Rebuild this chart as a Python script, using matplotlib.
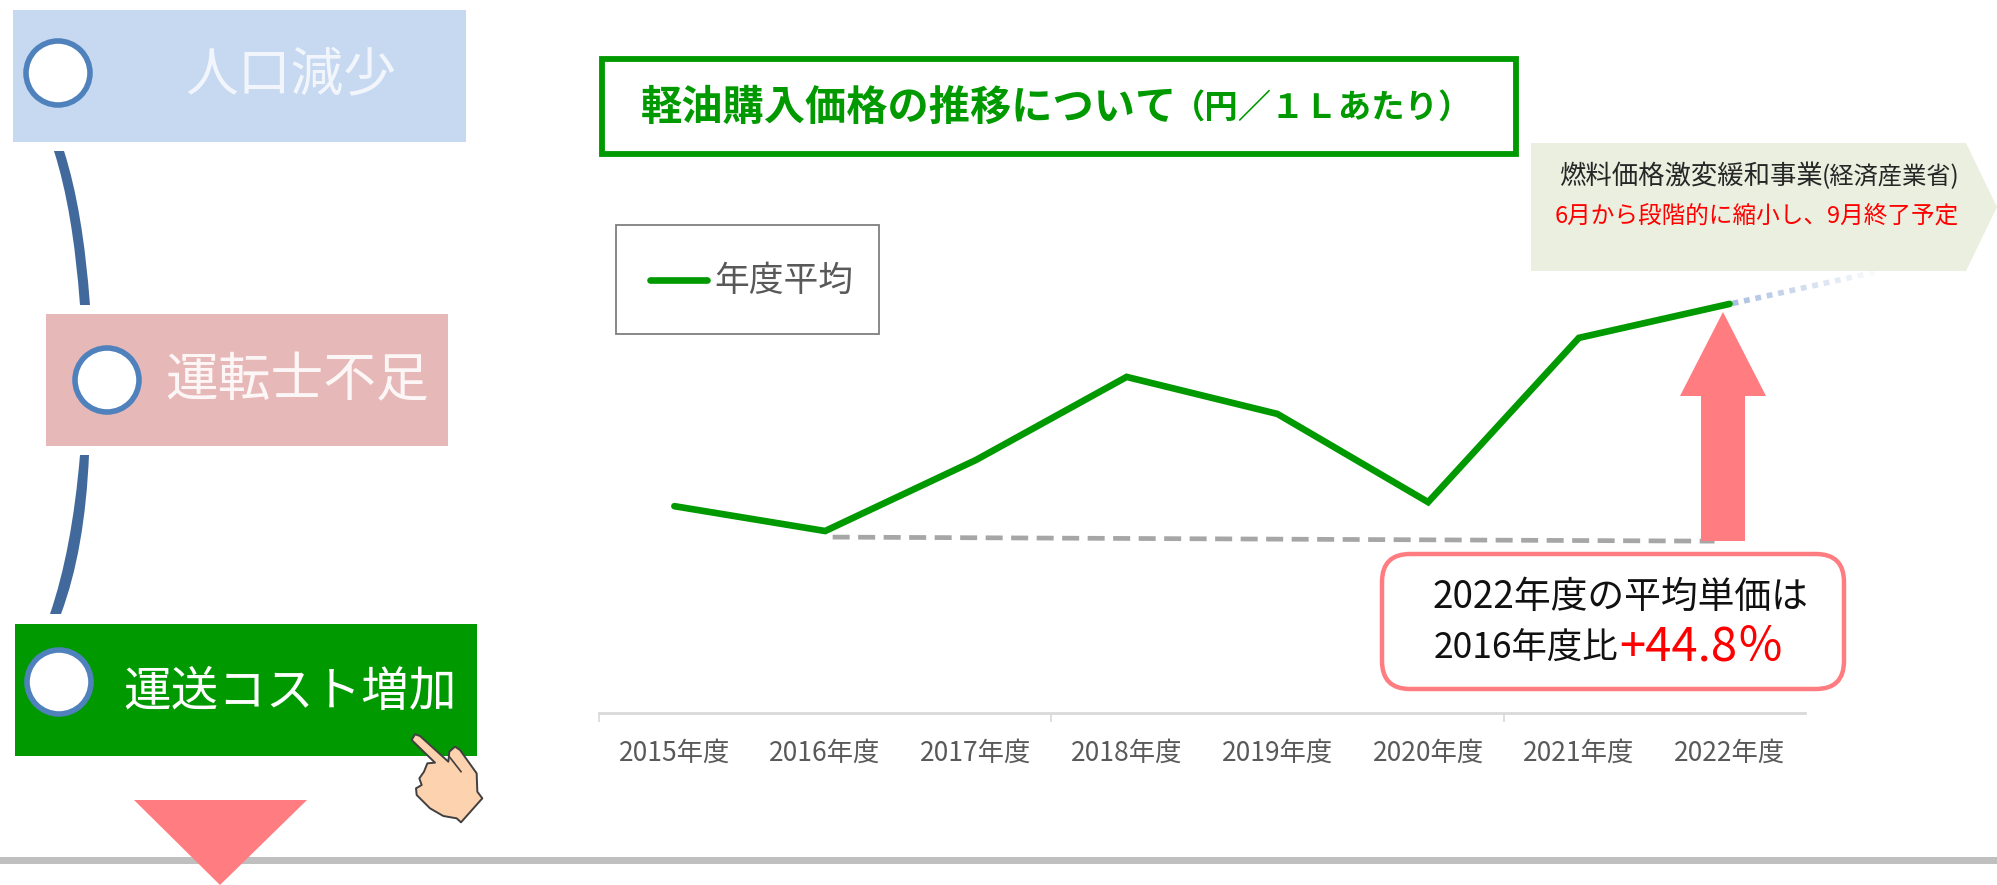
import numpy as np
import matplotlib.pyplot as plt
from matplotlib.patches import Rectangle, Ellipse, Polygon, PathPatch, FancyBboxPatch
from matplotlib.path import Path

plt.rcParams['font.family'] = ['Noto Sans CJK JP', 'DejaVu Sans']

years = ['2015年度', '2016年度', '2017年度', '2018年度', '2019年度', '2020年度', '2021年度', '2022年度']
price = [104.9, 100.0, 114.0, 130.4, 123.1, 105.7, 138.1, 144.8]
projection_end = 151.3

GREEN = '#009900'
PINK = '#ff7c80'
W, H = 1997, 885

fig = plt.figure(figsize=(W / 100, H / 100), dpi=100)


def px_axes(left, top, right, bottom):
    return [left / W, 1 - bottom / H, (right - left) / W, (bottom - top) / H]


# chart
ax = fig.add_axes(px_axes(599, 200, 1805, 713))
ax.patch.set_alpha(0)
x = np.arange(len(years))
ax.set_xlim(-0.5, 7.5)
ax.set_ylim(64.1, 165.3)

ax.plot([1.05, 6.9], [price[1] - 1.2, price[1] - 2.0], color='#a6a6a6', lw=3.4,
        dashes=(3.6, 1.8), zorder=1)

# dotted line after 2022, fading out
n = 13
xs = np.linspace(x[-1] + 0.02, 8.0, n + 1)
ys = np.linspace(price[-1] + 0.1, projection_end, n + 1)
for i in range(n):
    x0 = xs[i] + 0.5 * (xs[i + 1] - xs[i])
    y0 = ys[i] + 0.5 * (ys[i + 1] - ys[i])
    ax.plot([xs[i], x0], [ys[i], y0], color='#9db5dc', lw=4, alpha=0.85 * (1 - i / n),
            solid_capstyle='butt', clip_on=False, zorder=1)

ax.plot(x, price, color=GREEN, lw=4.8, solid_joinstyle='miter', solid_capstyle='round', zorder=2)

for s in ['top', 'left', 'right']:
    ax.spines[s].set_visible(False)
ax.spines['bottom'].set_color('#d9d9d9')
ax.spines['bottom'].set_linewidth(2)
ax.set_yticks([])
ax.set_xticks([-0.5, 2.5, 5.5])
ax.set_xticklabels([])
ax.tick_params(axis='x', which='major', length=6.5, width=1.2, color='#d9d9d9')
ax.set_xticks(x, minor=True)
ax.set_xticklabels(years, minor=True, fontsize=19, color='#595959')
ax.tick_params(axis='x', which='minor', length=0, pad=19)

# everything else, in pixels of the picture
ov = fig.add_axes([0, 0, 1, 1])
ov.set_xlim(0, W)
ov.set_ylim(H, 0)
ov.axis('off')
ov.patch.set_alpha(0)


def curved(p0, c0, p1, p2, c1, p3):
    verts = [p0, c0, p1, p2, c1, p3, p0]
    codes = [Path.MOVETO, Path.CURVE3, Path.CURVE3, Path.LINETO, Path.CURVE3, Path.CURVE3, Path.CLOSEPOLY]
    return PathPatch(Path(verts, codes), fc='#41699b', ec='none')


ov.add_patch(curved((64, 151), (83, 210), (90, 305), (80, 305), (73, 210), (54, 151)))
ov.add_patch(curved((89, 455), (85, 550), (61, 614), (50, 614), (72, 550), (80, 455)))

boxes = [(13, 10, 466, 142, '#c6d9f1'), (46, 314, 448, 446, '#e6b8b7'), (15, 624, 477, 756, GREEN)]
for l, t, r, b, c in boxes:
    ov.add_patch(Rectangle((l, t), r - l, b - t, fc=c, ec='none'))

for cx, cy in [(58, 73), (107, 380), (59, 682)]:
    ov.add_patch(Ellipse((cx, cy), 64, 64, fc='white', ec='#4f81bd', lw=4))

ov.text(291, 75, '人口減少', fontsize=38, color='#f2f6fc', ha='center', va='center')
ov.text(297, 381, '運転士不足', fontsize=38, color='#fdf6f6', ha='center', va='center')
ov.text(290, 692, '運送コスト増加', fontsize=34.3, color='white', ha='center', va='center')

# hand
hand = [(185, 60), (195, 43), (210, 48), (295, 125), (298, 95), (315, 80), (330, 90), (380, 160),
        (382, 215), (397, 235), (333, 307), (320, 295), (280, 288), (240, 265), (200, 225),
        (198, 205), (215, 195), (208, 175), (222, 155), (232, 130), (255, 128)]
hand = [(350 + a / 3, 720 + b / 3) for a, b in hand]
ov.add_patch(Polygon(hand, closed=True, fc='#fdd2ae', ec='#404040', lw=1.4, joinstyle='round'))
ov.plot([350 + 298 / 3, 350 + 333 / 3], [720 + 110 / 3, 720 + 155 / 3], color='#404040', lw=1.2)

ov.add_patch(Rectangle((0, 857), W, 7, fc='#bfbfbf', ec='none'))
ov.add_patch(Polygon([(134, 800), (307, 800), (220, 885)], closed=True, fc=PINK, ec='none', zorder=3))

# title
ov.add_patch(Rectangle((602, 59), 914, 95, fc='white', ec=GREEN, lw=4.2))
ov.text(641, 108, '軽油購入価格の推移について', fontsize=29.7, fontweight='bold', color=GREEN, va='center')
ov.text(1172, 108, '（円／１Ｌあたり）', fontsize=24, fontweight='bold', color=GREEN, va='center')

# legend
ov.add_patch(Rectangle((616, 225), 263, 109, fc='white', ec='#7f7f7f', lw=1.3))
ov.plot([650, 707], [280, 280], color=GREEN, lw=4.8, solid_capstyle='round')
ov.text(714, 281, '年度平均', fontsize=25, color='#595959', va='center')

# callout
ov.add_patch(Polygon([(1531, 143), (1966, 143), (1997, 207), (1966, 271), (1531, 271)], closed=True,
                     fc='#ebefdf', ec='none'))
ov.text(1559, 177, '燃料価格激変緩和事業', fontsize=19, color='#262626', va='center')
ov.text(1822, 177, '(経済産業省)', fontsize=17.5, color='#262626', va='center')
ov.text(1757, 216, '6月から段階的に縮小し、9月終了予定', fontsize=17, color='#ff0000', ha='center', va='center')

# arrow
ov.add_patch(Polygon([(1723, 312), (1766, 396), (1745, 396), (1745, 541), (1701, 541), (1701, 396), (1680, 396)],
                     closed=True, fc=PINK, ec='none'))

# result box
ov.add_patch(FancyBboxPatch((1382 + 28, 554 + 28), 462 - 56, 135 - 56, boxstyle='round,pad=28,rounding_size=28',
                            fc='white', ec=PINK, lw=3.2))
ov.text(1620, 597, '2022年度の平均単価は', fontsize=26.5, color='#111111', ha='center', va='center')
ov.text(1434, 649, '2016年度比', fontsize=25.5, color='#111111', va='center')
ov.text(1619, 647, '+44.8％', fontsize=34, color='#ff0000', va='center')

fig.savefig('out.png', dpi=100)
